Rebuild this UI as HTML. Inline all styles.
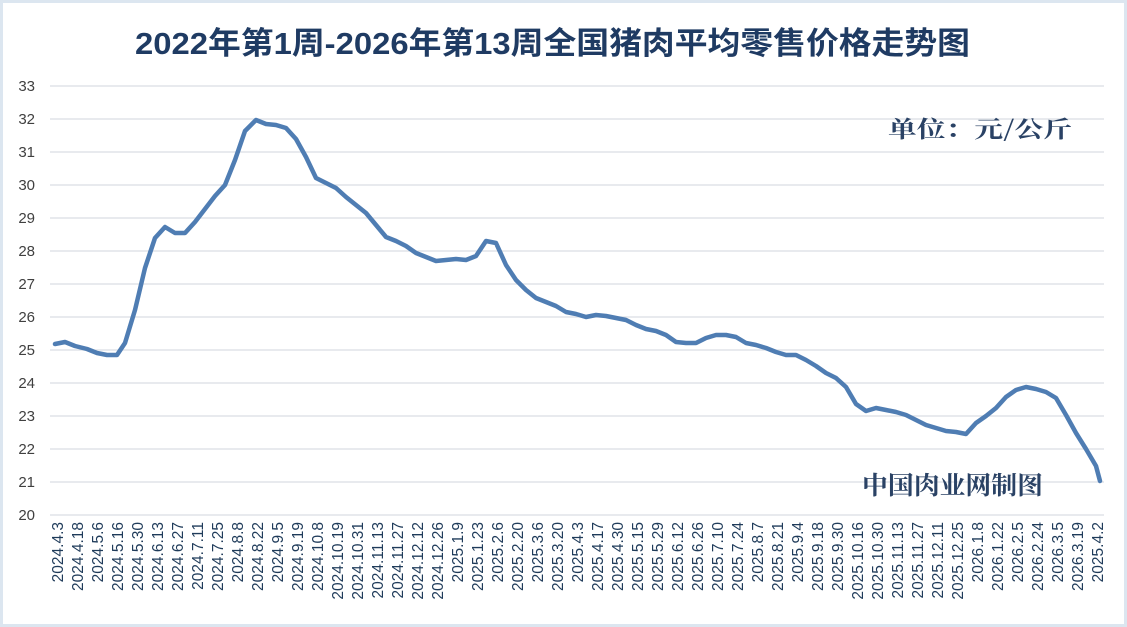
<!DOCTYPE html>
<html><head><meta charset="utf-8"><style>
html,body{margin:0;padding:0;background:#fff}
svg{display:block}
</style></head><body>
<svg width="1127" height="627" viewBox="0 0 1127 627" xmlns="http://www.w3.org/2000/svg">
<rect x="1.5" y="1.5" width="1124" height="624" fill="#fff" stroke="#dce6f0" stroke-width="3"/>
<text x="135" y="54" textLength="835" lengthAdjust="spacingAndGlyphs" font-family="Liberation Sans, Noto Sans CJK SC, sans-serif" font-weight="bold" font-size="31" fill="#1f3b63">2022年第1周-2026年第13周全国猪肉平均零售价格走势图</text>
<g stroke="#d9dde3" stroke-width="1.3">
<line x1="50" x2="1104" y1="86" y2="86"/><line x1="50" x2="1104" y1="119" y2="119"/><line x1="50" x2="1104" y1="152" y2="152"/><line x1="50" x2="1104" y1="185" y2="185"/><line x1="50" x2="1104" y1="218" y2="218"/><line x1="50" x2="1104" y1="251" y2="251"/><line x1="50" x2="1104" y1="284" y2="284"/><line x1="50" x2="1104" y1="317" y2="317"/><line x1="50" x2="1104" y1="350" y2="350"/><line x1="50" x2="1104" y1="383" y2="383"/><line x1="50" x2="1104" y1="416" y2="416"/><line x1="50" x2="1104" y1="449" y2="449"/><line x1="50" x2="1104" y1="482" y2="482"/><line x1="50" x2="1104" y1="515" y2="515"/>
</g>
<g font-family="Liberation Sans, sans-serif" font-size="15" fill="#404040" text-anchor="end">
<text x="35" y="91">33</text><text x="35" y="124">32</text><text x="35" y="157">31</text><text x="35" y="190">30</text><text x="35" y="223">29</text><text x="35" y="256">28</text><text x="35" y="289">27</text><text x="35" y="322">26</text><text x="35" y="355">25</text><text x="35" y="388">24</text><text x="35" y="421">23</text><text x="35" y="454">22</text><text x="35" y="487">21</text><text x="35" y="520">20</text>
</g>
<text x="888" y="137" textLength="184" lengthAdjust="spacingAndGlyphs" font-family="Noto Serif CJK SC, serif" font-weight="bold" font-size="23" fill="#2a4265">单位：元/公斤</text>
<text x="862" y="494" textLength="181" lengthAdjust="spacingAndGlyphs" font-family="Noto Serif CJK SC, serif" font-weight="bold" font-size="25" fill="#2a4265">中国肉业网制图</text>
<polyline fill="none" stroke="#4f7db3" stroke-width="4.5" stroke-linejoin="round" stroke-linecap="round" points="55,344 65,342 75,346 87,349 97,353 107,355 117,355 125,343 135,310 145,268 155,238 165,227 175,233 185,233 195,222 205,209 215,196 225,185 235,160 245,131 256,120 266,124 276,125 286,128 296,139 306,157 316,178 326,183 336,188 346,197 356,205 366,213 376,225 386,237 396,241 406,246 416,253 426,257 436,261 446,260 456,259 466,260 476,256 486,241 496,243 506,265 516,280 526,290 536,298 546,302 556,306 566,312 576,314 586,317 596,315 606,316 616,318 626,320 636,325 646,329 656,331 666,335 676,342 686,343 696,343 706,338 716,335 726,335 736,337 746,343 756,345 766,348 776,352 786,355 796,355 806,360 816,366 826,373 836,378 846,387 856,404 866,411 876,408 886,410 896,412 906,415 916,420 926,425 936,428 946,431 956,432 966,434 976,423 986,416 996,408 1006,397 1016,390 1026,387 1036,389 1046,392 1056,398 1066,415 1076,433 1086,449 1096,466 1100,481"/>
<g font-family="Liberation Sans, sans-serif" font-size="15.5" fill="#1f3b5a" text-anchor="end">
<text transform="translate(63,522) rotate(-90)">2024.4.3</text>
<text transform="translate(83,522) rotate(-90)">2024.4.18</text>
<text transform="translate(103,522) rotate(-90)">2024.5.6</text>
<text transform="translate(123,522) rotate(-90)">2024.5.16</text>
<text transform="translate(143,522) rotate(-90)">2024.5.30</text>
<text transform="translate(163,522) rotate(-90)">2024.6.13</text>
<text transform="translate(183,522) rotate(-90)">2024.6.27</text>
<text transform="translate(203,522) rotate(-90)">2024.7.11</text>
<text transform="translate(223,522) rotate(-90)">2024.7.25</text>
<text transform="translate(243,522) rotate(-90)">2024.8.8</text>
<text transform="translate(263,522) rotate(-90)">2024.8.22</text>
<text transform="translate(283,522) rotate(-90)">2024.9.5</text>
<text transform="translate(303,522) rotate(-90)">2024.9.19</text>
<text transform="translate(323,522) rotate(-90)">2024.10.8</text>
<text transform="translate(343,522) rotate(-90)">2024.10.19</text>
<text transform="translate(363,522) rotate(-90)">2024.10.31</text>
<text transform="translate(383,522) rotate(-90)">2024.11.13</text>
<text transform="translate(403,522) rotate(-90)">2024.11.27</text>
<text transform="translate(423,522) rotate(-90)">2024.12.12</text>
<text transform="translate(443,522) rotate(-90)">2024.12.26</text>
<text transform="translate(463,522) rotate(-90)">2025.1.9</text>
<text transform="translate(483,522) rotate(-90)">2025.1.23</text>
<text transform="translate(503,522) rotate(-90)">2025.2.6</text>
<text transform="translate(523,522) rotate(-90)">2025.2.20</text>
<text transform="translate(543,522) rotate(-90)">2025.3.6</text>
<text transform="translate(563,522) rotate(-90)">2025.3.20</text>
<text transform="translate(583,522) rotate(-90)">2025.4.3</text>
<text transform="translate(603,522) rotate(-90)">2025.4.17</text>
<text transform="translate(623,522) rotate(-90)">2025.4.30</text>
<text transform="translate(643,522) rotate(-90)">2025.5.15</text>
<text transform="translate(663,522) rotate(-90)">2025.5.29</text>
<text transform="translate(683,522) rotate(-90)">2025.6.12</text>
<text transform="translate(703,522) rotate(-90)">2025.6.26</text>
<text transform="translate(723,522) rotate(-90)">2025.7.10</text>
<text transform="translate(743,522) rotate(-90)">2025.7.24</text>
<text transform="translate(763,522) rotate(-90)">2025.8.7</text>
<text transform="translate(783,522) rotate(-90)">2025.8.21</text>
<text transform="translate(803,522) rotate(-90)">2025.9.4</text>
<text transform="translate(823,522) rotate(-90)">2025.9.18</text>
<text transform="translate(843,522) rotate(-90)">2025.9.30</text>
<text transform="translate(863,522) rotate(-90)">2025.10.16</text>
<text transform="translate(883,522) rotate(-90)">2025.10.30</text>
<text transform="translate(903,522) rotate(-90)">2025.11.13</text>
<text transform="translate(923,522) rotate(-90)">2025.11.27</text>
<text transform="translate(943,522) rotate(-90)">2025.12.11</text>
<text transform="translate(963,522) rotate(-90)">2025.12.25</text>
<text transform="translate(983,522) rotate(-90)">2026.1.8</text>
<text transform="translate(1003,522) rotate(-90)">2026.1.22</text>
<text transform="translate(1023,522) rotate(-90)">2026.2.5</text>
<text transform="translate(1043,522) rotate(-90)">2026.2.24</text>
<text transform="translate(1063,522) rotate(-90)">2026.3.5</text>
<text transform="translate(1083,522) rotate(-90)">2026.3.19</text>
<text transform="translate(1103,522) rotate(-90)">2025.4.2</text>
</g>
</svg>
</body></html>
